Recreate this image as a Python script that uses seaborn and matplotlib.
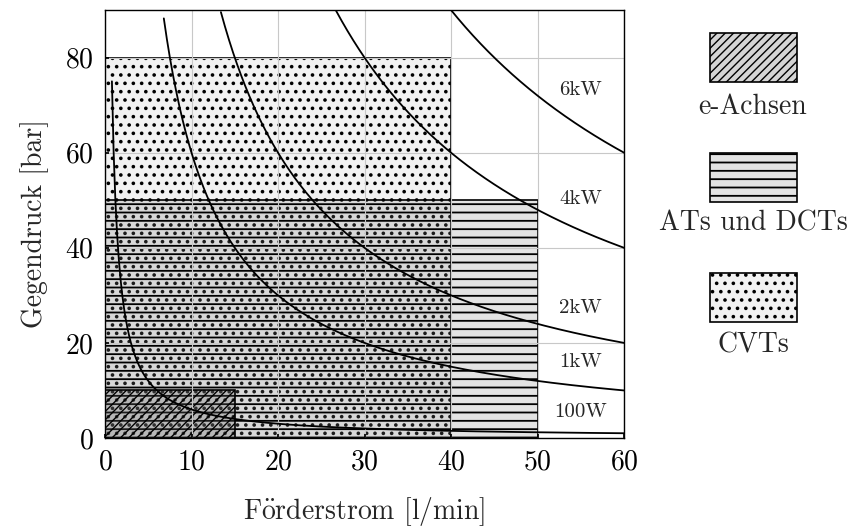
import numpy as np
import pandas as pd
import seaborn as sns
import matplotlib
matplotlib.use("Agg")
import matplotlib.pyplot as plt
from matplotlib.patches import Rectangle

# ---- data -------------------------------------------------------------
# Operating areas (flow range [l/min], pressure range [bar])
areas = ["CVTs", "ATs und DCTs", "e-Achsen"]
area_q_max = [40, 50, 15]
area_p_max = [80, 50, 10]

# Iso-power lines: p [bar] = 600 * P[kW] / Q [l/min]
power_kw = [0.1, 1, 2, 4, 6]
power_labels = ["100W", "1kW", "2kW", "4kW", "6kW"]
curve_q_start = [0.8, 6.8, 13.4, 26.7, 40.0]
label_q = [55, 55, 55, 55, 55]
label_p = [5.5, 16, 27.3, 50.2, 73.1]

x_ticks = [0, 10, 20, 30, 40, 50, 60]
y_ticks = [0, 20, 40, 60, 80]

# ---- style -------------------------------------------------------------
sns.set_theme(style="ticks")
plt.rcParams["font.family"] = ["cmr10", "DejaVu Serif"]
plt.rcParams["mathtext.fontset"] = "cm"
plt.rcParams["axes.formatter.use_mathtext"] = True
plt.rcParams["hatch.color"] = "black"

FS = 20

fig = plt.figure(figsize=(8.51, 5.32), dpi=100)
ax = fig.add_axes([105 / 851, 1 - 438 / 532, (624 - 105) / 851, (438 - 10) / 532])

styles = {
    "CVTs": dict(hatch="..", fc=(0.5, 0.5, 0.5, 0.10), hlw=1.4),
    "ATs und DCTs": dict(hatch="--", fc=(0.5, 0.5, 0.5, 0.22), hlw=1.3),
    "e-Achsen": dict(hatch="////", fc=(0.4, 0.4, 0.4, 0.28), hlw=1.0),
}


def make_rect(xy, w, h, st, **kw):
    with plt.rc_context({"hatch.linewidth": st["hlw"]}):
        r = Rectangle(xy, w, h, facecolor=st["fc"], edgecolor="black",
                      hatch=st["hatch"], linewidth=1.2, **kw)
    if hasattr(r, "set_hatch_linewidth"):
        r.set_hatch_linewidth(st["hlw"])
    return r


for name, qm, pm in zip(areas, area_q_max, area_p_max):
    ax.add_patch(make_rect((0, 0), qm, pm, styles[name], zorder=1))

# curves
rows = []
for P, lab, q0 in zip(power_kw, power_labels, curve_q_start):
    q = np.linspace(q0, 60, 300)
    rows.append(pd.DataFrame({"Q": q, "p": 600 * P / q, "P": lab}))
df = pd.concat(rows, ignore_index=True)
sns.lineplot(data=df, x="Q", y="p", hue="P", palette=["black"] * len(power_kw),
             linewidth=1.3, legend=False, ax=ax, zorder=4, sort=False, estimator=None)

for lab, xq, yp in zip(power_labels, label_q, label_p):
    ax.text(xq, yp, lab, ha="center", va="center", fontsize=15, zorder=5)

ax.set_xlim(0, 60)
ax.set_ylim(0, 90)
ax.set_xticks(x_ticks)
ax.set_yticks(y_ticks)
ax.grid(True, color="#c8c8c8", linewidth=0.8)
ax.set_axisbelow(False)
for ln in ax.get_xgridlines() + ax.get_ygridlines():
    ln.set_zorder(2)
ax.tick_params(direction="in", length=3, labelsize=FS, colors="black", pad=8)
for s in ax.spines.values():
    s.set_color("black")
    s.set_linewidth(1.0)
    s.set_zorder(6)
ax.set_xlabel(r"F$\ddot{\mathrm{o}}$rderstrom [l/min]", fontsize=FS, labelpad=14)
ax.set_ylabel("Gegendruck [bar]", fontsize=FS, labelpad=12)

# legend (manual: swatch above label)
W = 851.0
H = 532.0
leg = [("e-Achsen", 33, 107), ("ATs und DCTs", 153, 223), ("CVTs", 273, 345)]
for name, ytop, ylab in leg:
    r = make_rect((710 / W, 1 - (ytop + 49) / H), 87 / W, 49 / H, styles[name],
                  transform=fig.transFigure)
    fig.patches.append(r)
    fig.text(753 / W, 1 - ylab / H, name, ha="center", va="center", fontsize=FS)

fig.savefig("out.png", dpi=100)
